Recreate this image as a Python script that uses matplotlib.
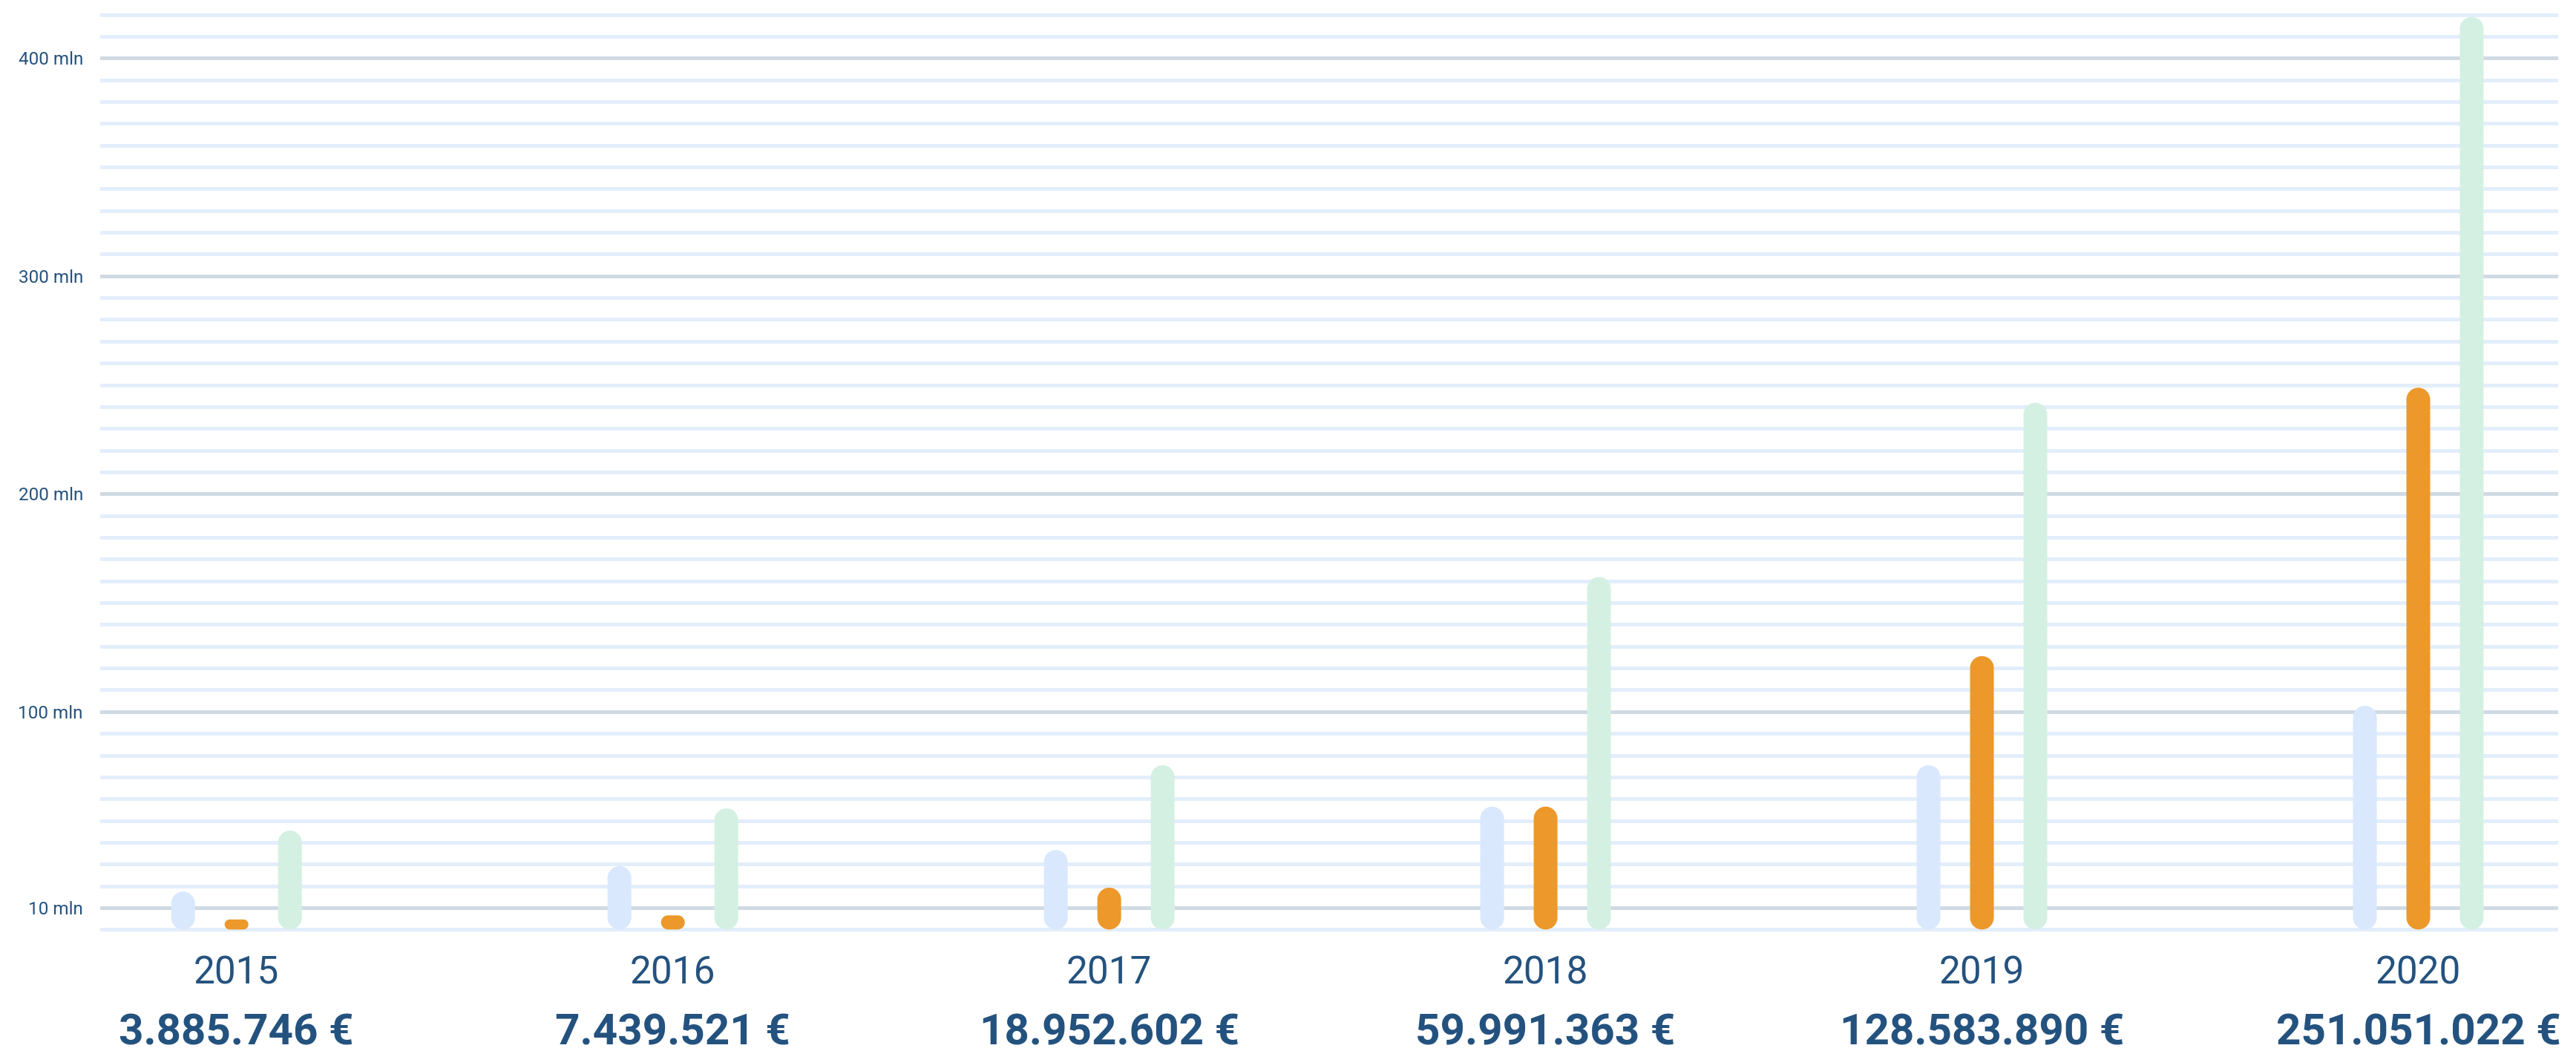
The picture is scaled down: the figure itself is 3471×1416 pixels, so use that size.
import numpy as np
import matplotlib
matplotlib.use("Agg")
import matplotlib.pyplot as plt
from matplotlib.patches import Polygon
from matplotlib.transforms import blended_transform_factory

# ---------------- data ----------------
years = ["2015", "2016", "2017", "2018", "2019", "2020"]
totals = ["3.885.746 €", "7.439.521 €", "18.952.602 €",
          "59.991.363 €", "128.583.890 €", "251.051.022 €"]
blue_values = [17.4, 29.1, 36.5, 56.4, 75.4, 102.7]      # mln
orange_values = [4.6, 6.5, 19.2, 56.4, 125.5, 248.7]     # mln
green_values = [45.4, 55.6, 75.4, 161.8, 241.8, 418.9]   # mln
ytick_values = [10, 100, 200, 300, 400]
ytick_labels = ["10 mln", "100 mln", "200 mln", "300 mln", "400 mln"]
grid_values = [10 * i for i in range(43)]
major_grid = [10, 100, 200, 300, 400]

# ---------------- style ----------------
W, H, DPI = 3471, 1416, 100
TEXT = "#24527f"
C_BLUE, C_ORANGE, C_GREEN = "#d9e8fd", "#ec982b", "#d4f0e2"
GRID_LIGHT, GRID_DARK = "#e3eefc", "#d0dae3"
FONT = "Roboto"

fig = plt.figure(figsize=(W / DPI, H / DPI), dpi=DPI)
fig.patch.set_facecolor("white")

ylo, yhi = -3, 423
px_per_mln = 2.935
ax_h = (yhi - ylo) * px_per_mln
ax_bottom = H - (1252.3 + (-ylo) * px_per_mln)
ax_left, ax_right = 137, 3444
ax = fig.add_axes([ax_left / W, ax_bottom / H, (ax_right - ax_left) / W, ax_h / H])

group_px = 587.96
xlo = -(318.7 - ax_left) / group_px
xhi = 5 + (ax_right - 3258.5) / group_px
ax.set_xlim(xlo, xhi)
ax.set_ylim(ylo, yhi)
for s in ax.spines.values():
    s.set_visible(False)
ax.set_xticks([])

# gridlines
for g in grid_values:
    ax.axhline(g, color=GRID_DARK if g in major_grid else GRID_LIGHT,
               lw=5 * 72 / DPI, zorder=1, clip_on=False)

ax.set_yticks(ytick_values)
ax.set_yticklabels(ytick_labels)
ax.tick_params(axis="y", length=0, pad=25 * 72 / DPI, labelsize=17.5,
               labelcolor=TEXT)
for lab in ax.get_yticklabels():
    lab.set_fontfamily(FONT)

# rounded bars (true circular corners, in data units)
x_per_px = (xhi - xlo) / (ax_right - ax_left)
y_per_px = (yhi - ylo) / ax_h
aspect = y_per_px / x_per_px
bar_w = 32 * x_per_px
offset = 72 * x_per_px

def rounded_bar(xc, v, color):
    rx = min(bar_w, v / aspect) / 2
    ry = rx * aspect
    x0, x1 = xc - bar_w / 2, xc + bar_w / 2
    y0, y1 = 0.0, v
    pts = []
    corners = [((x1 - rx, y1 - ry), 0, 90), ((x0 + rx, y1 - ry), 90, 180),
               ((x0 + rx, y0 + ry), 180, 270), ((x1 - rx, y0 + ry), 270, 360)]
    for (cx, cy), a0, a1 in corners:
        t = np.radians(np.linspace(a0, a1, 24))
        pts.extend(zip(cx + rx * np.cos(t), cy + ry * np.sin(t)))
    ax.add_patch(Polygon(pts, closed=True, facecolor=color, edgecolor="none",
                         zorder=3, clip_on=False))

for i in range(len(years)):
    rounded_bar(i - offset, blue_values[i], C_BLUE)
    rounded_bar(i, orange_values[i], C_ORANGE)
    rounded_bar(i + offset, green_values[i], C_GREEN)

# labels below
tr = blended_transform_factory(ax.transData, fig.transFigure)
for i, (yr, tot) in enumerate(zip(years, totals)):
    ax.text(i, 1 - 1325 / H, yr, transform=tr, ha="center", va="baseline",
            fontsize=37, color=TEXT, fontfamily=FONT)
    ax.text(i, 1 - 1407 / H, tot, transform=tr, ha="center", va="baseline",
            fontsize=42, color=TEXT, fontfamily=FONT, fontweight="bold")

fig.savefig("out.png", dpi=DPI, facecolor="white")
